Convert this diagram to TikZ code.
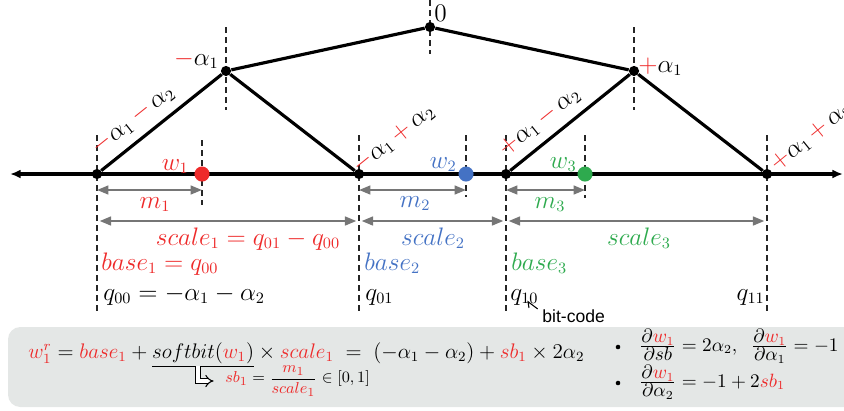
\documentclass[tikz,border=0pt]{standalone}
\usepackage{fontspec}
\usepackage{amsmath}
\usepackage{tikz}
\usetikzlibrary{arrows.meta,positioning,calc}
\newfontfamily\arialfont{Liberation Sans}
\definecolor{qred}{HTML}{EE2A2A}
\definecolor{qblue}{HTML}{4472C4}
\definecolor{qgreen}{HTML}{2EAA4E}
\definecolor{qgrey}{HTML}{767676}
\definecolor{qbox}{HTML}{E4E7E6}
\newcommand{\rd}[1]{\textcolor{qred}{#1}}
\newcommand{\bl}[1]{\textcolor{qblue}{#1}}
\newcommand{\gr}[1]{\textcolor{qgreen}{#1}}
\newcommand{\pfrac}[2]{\frac{\textstyle #1}{\textstyle #2}}

\begin{document}
\begin{tikzpicture}[x=0.02cm,y=-0.02cm,
  edge/.style={black,line width=1.8pt},
  guide/.style={black!85,line width=0.8pt,dash pattern=on 3.4pt off 2.3pt},
  knot/.style={circle,fill=black,inner sep=0pt,minimum size=5.8pt},
  wdot/.style={circle,fill=#1,inner sep=0pt,minimum size=8.6pt},
  span/.style={qgrey,line width=1.2pt,{Triangle[length=6.5pt,width=5pt]}-{Triangle[length=6.5pt,width=5pt]}},
  lbl/.style={inner sep=0pt,font=\fontsize{13.5}{16}\selectfont},
  eqn/.style={inner sep=0pt,font=\fontsize{11.5}{14}\selectfont},
]
\useasboundingbox (0,0) rectangle (844,410);
\fill[qbox,rounded corners=7pt] (8,327) rectangle (870,407);

% dashed guides
\foreach \x in {97,359,506,767} \draw[guide] (\x,135) -- (\x,314);
\foreach \x/\a/\b in {202/140/205,466/135/197,585/135/198,226/27/110,634/27/110,430/0/54}
  \draw[guide] (\x,\a) -- (\x,\b);

% number line
\coordinate (lend) at (10,174);
\coordinate (rend) at (843,174);
\draw[edge,{Latex[length=6pt,width=5pt]}-{Latex[length=6pt,width=5pt]}] (lend) -- (rend);

\node[knot] (q00) at (97,174) {};
\node[knot] (q01) at (359,174) {};
\node[knot] (q10) at (506,174) {};
\node[knot] (q11) at (767,174) {};
\node[knot] (pkl) at (226,71) {};
\node[knot] (top) at (430,27) {};
\node[knot] (pkr) at (634,71) {};
\node[wdot=qred] (w1) at (202,174) {};
\node[wdot=qblue] (w2) at (466,174) {};
\node[wdot=qgreen] (w3) at (585,174) {};

\draw[edge] (q00) -- node[lbl,sloped,above=5pt,pos=0.37]
  {$\rd{-}\alpha_1\,\rd{-}\,\alpha_2$} (pkl) -- (q01);
\draw[edge] (pkl) -- (top) -- (pkr);
\draw[edge] (q10) -- node[lbl,sloped,above=5pt,pos=0.35]
  {$\rd{+}\alpha_1\,\rd{-}\,\alpha_2$} (pkr) -- (q11);
\node[lbl,rotate=39] (lq01) at (394,139) {$\rd{-}\alpha_1\,\rd{+}\,\alpha_2$};
\node[lbl,rotate=39] (lq11) at (811,137) {$\rd{+}\alpha_1\,\rd{+}\,\alpha_2$};

\node[lbl,anchor=base east] (lpkl) at (219,65) {$\rd{-}\alpha_1$};
\node[lbl,anchor=base west] (lpkr) at (638,72) {$\rd{+}\alpha_1$};
\node[lbl,anchor=base west] (ltop) at (434,21) {$0$};
\node[lbl,anchor=base east] (lw1) at (189,170) {$\rd{w_1}$};
\node[lbl,anchor=base east] (lw2) at (457,168) {$\bl{w_2}$};
\node[lbl,anchor=base east] (lw3) at (577,168) {$\gr{w_3}$};

% m and scale spans
\coordinate (mrow) at (0,190);
\coordinate (srow) at (0,221);
\draw[span] (q00 |- mrow) -- (w1 |- mrow);
\draw[span] (q01 |- mrow) -- (w2 |- mrow);
\draw[span] (q10 |- mrow) -- (w3 |- mrow);
\draw[span,shorten <=1.5pt,shorten >=1.5pt] (q00 |- srow) -- (q01 |- srow);
\draw[span,shorten <=1.5pt,shorten >=1.5pt] (q01 |- srow) -- (q10 |- srow);
\draw[span,shorten <=1.5pt,shorten >=1.5pt] (q10 |- srow) -- (q11 |- srow);

\node[lbl,anchor=base] (lm1) at (155,208) {$\rd{m_1}$};
\node[lbl,anchor=base] (lm2) at (415,207) {$\bl{m_2}$};
\node[lbl,anchor=base] (lm3) at (550,208) {$\gr{m_3}$};
\node[lbl,anchor=base] (ls1) at (248,245) {$\rd{scale_1 = q_{01} - q_{00}}$};
\node[lbl,anchor=base] (ls2) at (433,245) {$\bl{scale_2}$};
\node[lbl,anchor=base] (ls3) at (639,245) {$\gr{scale_3}$};
\node[lbl,anchor=base west] (lb1) at (101,270) {$\rd{base_1 = q_{00}}$};
\node[lbl,anchor=base west] (lb2) at (364,270) {$\bl{base_2}$};
\node[lbl,anchor=base west] (lb3) at (511,270) {$\gr{base_3}$};
\node[lbl,anchor=base west] (lq00) at (103,300) {$q_{00} = -\alpha_1 - \alpha_2$};
\node[lbl,anchor=base west] (lq01b) at (365,300) {$q_{01}$};
\node[lbl,anchor=base west] (lq10) at (510,300) {$q_{10}$};
\node[lbl,anchor=base east] (lq11b) at (765,300) {$q_{11}$};

\node[inner sep=0pt,anchor=base west,font=\arialfont\fontsize{10}{12}\selectfont]
  (bc) at (542,322) {bit-code};
\draw[line width=0.6pt,-{Straight Barb[left,length=2.5pt]}]
  ([xshift=-2.5pt]bc.north west) -- ++(-6pt,4.5pt);

% formula box
\node[eqn,anchor=base west] (eq) at (28,358)
  {$\rd{w_1^r} = \rd{base_1} + {\color{qgrey}\underline{\color{black}softbit(\rd{w_1})}} \times \rd{scale_1} \;=\; (-\alpha_1 - \alpha_2) + \rd{sb_1} \times 2\alpha_2$};
\node[inner sep=0pt,anchor=west,font=\fontsize{9.5}{11}\selectfont] (sb) at (225,381)
  {$\rd{sb_1} = \dfrac{\rd{m_1}}{\rd{scale_1}} \in [0,1]$};
\coordinate (hk) at (198,366);
\draw[double,double distance=1.8pt,line width=0.6pt,-{Implies},shorten >=6.5pt] (hk) |- (sb.west);

\node[circle,fill=black,inner sep=0pt,minimum size=2.6pt] (b1) at (618,347) {};
\node[circle,fill=black,inner sep=0pt,minimum size=2.6pt] (b2) at (618,383) {};
\node[eqn,anchor=base west,font=\fontsize{10.5}{13}\selectfont] (d1) at (639,351)
  {$\pfrac{\partial \rd{w_1}}{\partial sb} = 2\alpha_2,\;\; \pfrac{\partial \rd{w_1}}{\partial \alpha_1} = -1$};
\node[eqn,anchor=base west,font=\fontsize{10.5}{13}\selectfont] (d2) at (639,387)
  {$\pfrac{\partial \rd{w_1}}{\partial \alpha_2} = -1 + 2\rd{sb_1}$};
\end{tikzpicture}
\end{document}
